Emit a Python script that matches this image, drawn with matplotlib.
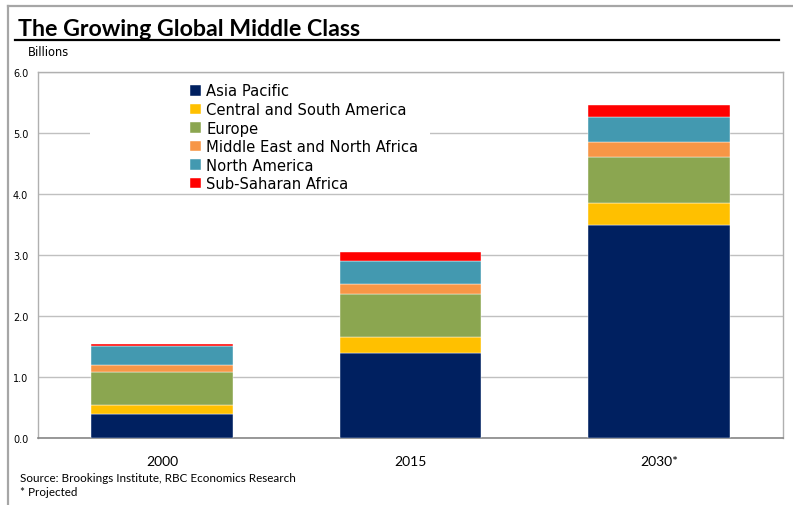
import matplotlib
matplotlib.use("Agg")
import matplotlib.pyplot as plt
from matplotlib.lines import Line2D
from matplotlib.patches import Rectangle
import numpy as np

years = ["2000", "2015", "2030*"]
regions = ["Asia Pacific", "Central and South America", "Europe",
           "Middle East and North Africa", "North America", "Sub-Saharan Africa"]
asia_pacific = [0.39, 1.39, 3.49]
central_south_america = [0.15, 0.26, 0.36]
europe = [0.55, 0.71, 0.75]
mena = [0.11, 0.16, 0.26]
north_america = [0.31, 0.38, 0.40]
sub_saharan = [0.03, 0.15, 0.20]
series = [asia_pacific, central_south_america, europe, mena, north_america, sub_saharan]
colors = ["#002060", "#FFC000", "#8BA650", "#F79646", "#4399B0", "#FF0000"]
yticks = [0.0, 1.0, 2.0, 3.0, 4.0, 5.0, 6.0]

W, H = 793, 506
fig = plt.figure(figsize=(W / 100, H / 100), dpi=100)
ax = fig.add_axes([38 / W, 1 - 439 / H, (783 - 38) / W, (439 - 73) / H])

x = np.arange(len(years))
bottom = np.zeros(len(years))
for vals, col, lab in zip(series, colors, regions):
    ax.bar(x, vals, width=0.57, bottom=bottom, color=col, label=lab,
           edgecolor="white", linewidth=0.3, zorder=3)
    bottom += np.array(vals)

ax.set_xlim(-0.5, len(years) - 0.5)
ax.set_ylim(0, 6.0)
ax.set_yticks(yticks)
ax.set_yticklabels([f"{v:.1f}" for v in yticks], fontsize=7, family="DejaVu Sans")
ax.set_xticks(x)
ax.set_xticklabels(years, fontsize=10, family="Lato")
ax.tick_params(axis="y", length=0, pad=7)
ax.tick_params(axis="x", length=0, pad=12)
ax.yaxis.grid(True, color="#C0C0C0", linewidth=1.0, zorder=0)
ax.set_axisbelow(True)
for s in ["left", "top", "right"]:
    ax.spines[s].set_color("#B0B0B0")
    ax.spines[s].set_linewidth(1.0)
ax.spines["bottom"].set_color("#868686")
ax.spines["bottom"].set_linewidth(1.2)

# white area behind legend
ax.add_patch(Rectangle(((90 - 38) / 745, (439 - 192) / 366), (430 - 90) / 745,
                       (192 - 78) / 366, transform=ax.transAxes,
                       facecolor="white", edgecolor="none", zorder=1))

leg = ax.legend(loc="upper left", bbox_to_anchor=((190 - 38) / 745, (439 - 84.5) / 366),
                frameon=False, borderaxespad=0, borderpad=0,
                handlelength=0.72, handleheight=0.72, handletextpad=0.4,
                labelspacing=0.24, prop={"family": "DejaVu Sans", "size": 10.6})

# title and decorations
fig.text(18 / W, 1 - 29 / H, "The Growing Global Middle Class", fontsize=16.7,
         fontweight="bold", family="Lato", va="center", ha="left")
fig.add_artist(Line2D([15 / W, 779 / W], [1 - 41 / H, 1 - 41 / H], color="black",
                      linewidth=1.6, transform=fig.transFigure))
fig.add_artist(Line2D([8 / W, 1.0], [1 - 7 / H, 1 - 7 / H], color="#A6A6A6",
                      linewidth=1.6, transform=fig.transFigure))
fig.add_artist(Line2D([8 / W, 8 / W], [0, 1 - 7 / H], color="#A6A6A6",
                      linewidth=1.6, transform=fig.transFigure))
fig.text(28 / W, 1 - 52 / H, "Billions", fontsize=8.3, family="DejaVu Sans",
         va="center", ha="left")
fig.text(20 / W, 1 - 479 / H, "Source: Brookings Institute, RBC Economics Research",
         fontsize=8.4, family="Lato", va="center", ha="left")
fig.text(20 / W, 1 - 493 / H, "* Projected", fontsize=8.4, family="Lato",
         va="center", ha="left")

fig.savefig("out.png", dpi=100)
